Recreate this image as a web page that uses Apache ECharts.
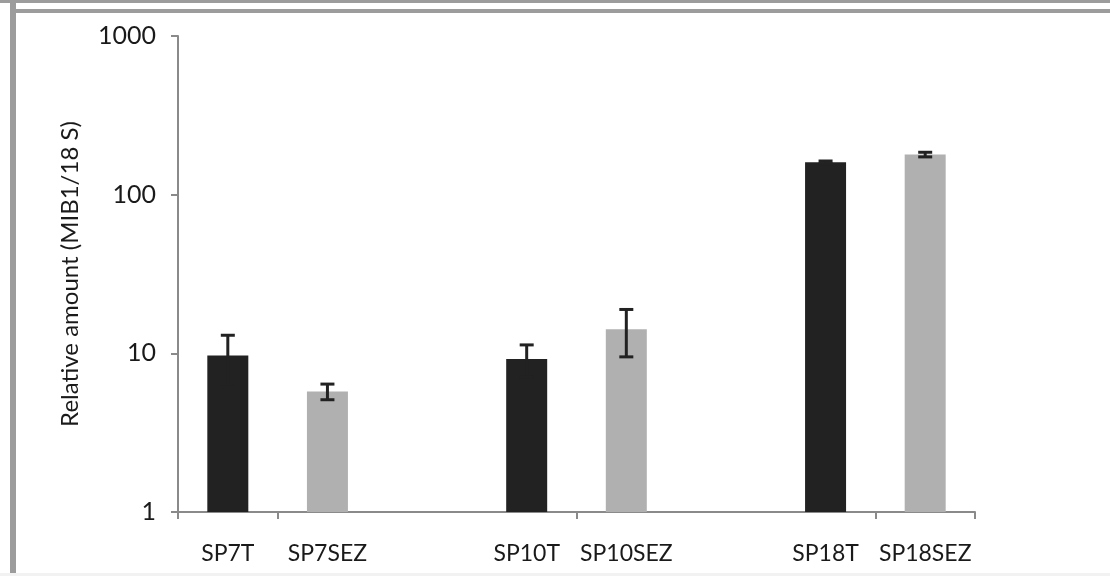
<!DOCTYPE html>
<html>
<head>
<meta charset="utf-8">
<script src="https://cdn.jsdelivr.net/npm/echarts@6/dist/echarts.min.js"></script>
<style>
html,body{margin:0;padding:0;background:#fff;}
#chart{width:1110px;height:576px;}
</style>
</head>
<body>
<div id="chart"></div>
<script>
// ---- data ----
const categories = ['SP7T', 'SP7SEZ', '', 'SP10T', 'SP10SEZ', '', 'SP18T', 'SP18SEZ'];
const groups = ['T', 'SEZ', null, 'T', 'SEZ', null, 'T', 'SEZ'];
const values = [9.7, 5.75, null, 9.2, 14.2, null, 160, 179];
const errors = [3.3, 0.65, null, 2.1, 4.7, null, 3, 6];
const yTicks = [1, 10, 100, 1000];

const DARK = '#222222';
const GRAY = '#b0b0b0';
const AXIS = '#8a8a8a';
const FONT = 'Lato, "Open Sans", sans-serif';

const chart = echarts.init(document.getElementById('chart'));

const barData = values.map((v, i) => v == null ? '-' : {
  value: v,
  itemStyle: { color: groups[i] === 'T' ? DARK : GRAY }
});
const errData = [];
values.forEach((v, i) => {
  if (v != null) errData.push([i, v - errors[i], v + errors[i]]);
});

chart.setOption({
  animation: false,
  backgroundColor: '#fff',
  grid: { left: 178, right: 135, top: 36, bottom: 64 },
  graphic: [
    { type: 'rect', shape: { x: 0, y: 0, width: 1110, height: 3 }, style: { fill: '#9c9c9c' }, silent: true },
    { type: 'rect', shape: { x: 10, y: 9, width: 1100, height: 4 }, style: { fill: '#9c9c9c' }, silent: true },
    { type: 'rect', shape: { x: 10, y: 0, width: 6, height: 576 }, style: { fill: '#9c9c9c' }, silent: true },
    { type: 'rect', shape: { x: 0, y: 573, width: 1110, height: 3 }, style: { fill: '#f2f2f2' }, silent: true }
  ],
  xAxis: {
    type: 'category',
    data: categories,
    boundaryGap: true,
    axisLine: { lineStyle: { color: AXIS, width: 2 } },
    axisTick: {
      show: true,
      length: 7,
      lineStyle: { color: AXIS, width: 2 },
      interval: function (index) { return index === 0 || index % 3 === 1; }
    },
    axisLabel: {
      interval: 0,
      margin: 30,
      color: '#1a1a1a',
      fontSize: 23,
      fontFamily: FONT
    }
  },
  yAxis: {
    type: 'log',
    logBase: 10,
    min: yTicks[0],
    max: yTicks[yTicks.length - 1],
    name: 'Relative amount (MIB1/18 S)',
    nameLocation: 'middle',
    nameGap: 96,
    nameRotate: 90,
    nameTextStyle: { color: '#1a1a1a', fontSize: 24, fontFamily: FONT },
    axisLine: { show: true, lineStyle: { color: AXIS, width: 2 } },
    axisTick: { show: true, length: 7, lineStyle: { color: AXIS, width: 2 } },
    minorTick: { show: false },
    splitLine: { show: false },
    axisLabel: {
      margin: 22,
      color: '#1a1a1a',
      fontSize: 25,
      fontFamily: FONT,
      formatter: function (v) { return String(Math.round(v)); }
    }
  },
  series: [
    {
      type: 'bar',
      data: barData,
      barWidth: 41
    },
    {
      type: 'custom',
      data: errData,
      z: 10,
      renderItem: function (params, api) {
        const x = api.value(0);
        const lo = api.coord([x, api.value(1)]);
        const hi = api.coord([x, api.value(2)]);
        const half = 7;
        const style = { stroke: DARK, lineWidth: 3 };
        return {
          type: 'group',
          children: [
            { type: 'line', shape: { x1: hi[0], y1: hi[1], x2: lo[0], y2: lo[1] }, style: style },
            { type: 'line', shape: { x1: hi[0] - half, y1: hi[1], x2: hi[0] + half, y2: hi[1] }, style: style },
            { type: 'line', shape: { x1: lo[0] - half, y1: lo[1], x2: lo[0] + half, y2: lo[1] }, style: style }
          ]
        };
      }
    }
  ]
});
</script>
</body>
</html>
